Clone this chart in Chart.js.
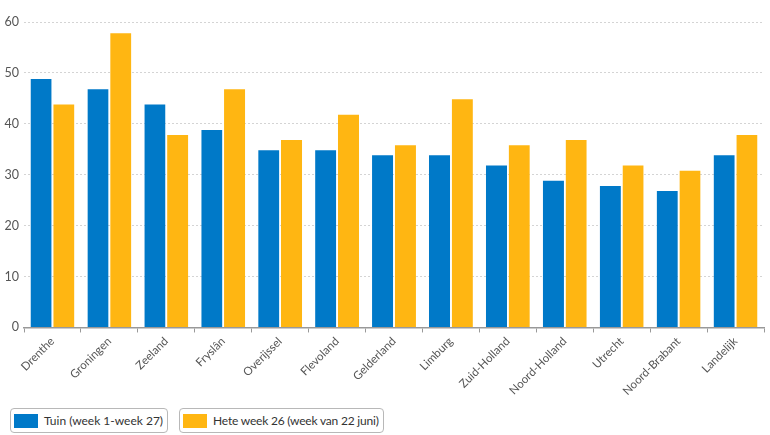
<!DOCTYPE html>
<html>
<head>
<meta charset="utf-8">
<script src="https://cdn.jsdelivr.net/npm/chart.js@4/dist/chart.umd.min.js"></script>
<style>
  html, body { margin: 0; padding: 0; background: #fff; }
  body { width: 770px; height: 435px; position: relative; overflow: hidden; font-family: Lato, "Open Sans", sans-serif; }
  #wrap { position: absolute; left: 0; top: 0; width: 770px; height: 400px; }
  #legend { position: absolute; left: 10px; top: 408px; display: flex; gap: 11px; }
  .item { display: flex; align-items: center; height: 23px; border: 1px solid #b8b8b8; border-radius: 4px; padding: 0 4px 0 3px; font-size: 12px; color: #333; background: #fff; white-space: nowrap; }
  .sw { width: 24px; height: 14px; margin-right: 6px; }
</style>
</head>
<body>
<div id="wrap"><canvas id="c" width="770" height="400"></canvas></div>
<div id="legend"></div>
<script>
const categories = ["Drenthe", "Groningen", "Zeeland", "Fryslân", "Overijssel", "Flevoland", "Gelderland", "Limburg", "Zuid-Holland", "Noord-Holland", "Utrecht", "Noord-Brabant", "Landelijk"];
const seriesNames = ["Tuin (week 1-week 27)", "Hete week 26 (week van 22 juni)"];
const tuin = [49, 47, 44, 39, 35, 35, 34, 34, 32, 29, 28, 27, 34];
const heteWeek = [44, 58, 38, 47, 37, 42, 36, 45, 36, 37, 32, 31, 38];
const yTicks = [0, 10, 20, 30, 40, 50, 60];
const colors = ["#0079c8", "#ffb612"];

const legend = document.getElementById('legend');
seriesNames.forEach((n, i) => {
  const d = document.createElement('div');
  d.className = 'item';
  d.innerHTML = '<span class="sw" style="background:' + colors[i] + '"></span><span' + (i === 1 ? ' style="letter-spacing:-0.2px"' : '') + '>' + n + '</span>';
  legend.appendChild(d);
});

new Chart(document.getElementById('c'), {
  type: 'bar',
  data: {
    labels: categories,
    datasets: [
      { label: seriesNames[0], data: tuin, backgroundColor: colors[0], borderColor: 'rgba(255,255,255,0.6)', borderWidth: {top: 1, left: 0, right: 0, bottom: 0} },
      { label: seriesNames[1], data: heteWeek, backgroundColor: colors[1], borderColor: 'rgba(255,255,255,0.6)', borderWidth: {top: 1, left: 0, right: 0, bottom: 0} }
    ]
  },
  options: {
    responsive: false,
    animation: false,
    devicePixelRatio: 1,
    layout: { padding: { left: 0, right: 6, top: 22, bottom: 0 } },
    datasets: { bar: { categoryPercentage: 0.8, barPercentage: 0.93 } },
    plugins: { legend: { display: false }, tooltip: { enabled: false } },
    scales: {
      x: {
        grid: { display: true, drawOnChartArea: false, drawTicks: true, tickLength: 5, color: '#999', offset: true },
        border: { display: true, color: '#999', width: 1.5 },
        ticks: { color: '#555', font: { family: 'Lato', size: 11.5 }, minRotation: 45, maxRotation: 45, padding: 2, autoSkip: false }
      },
      y: {
        min: 0, max: 60,
        afterBuildTicks: (s) => { s.ticks = yTicks.map(v => ({ value: v })); },
        afterFit: (s) => { s.width = 24; },
        grid: { color: '#d4d4d4', lineWidth: 1, drawTicks: false },
        border: { display: false, dash: [2, 2] },
        ticks: { color: '#555', font: { family: 'Lato', size: 12.5 }, padding: 5 }
      }
    }
  }
});
</script>
</body>
</html>
